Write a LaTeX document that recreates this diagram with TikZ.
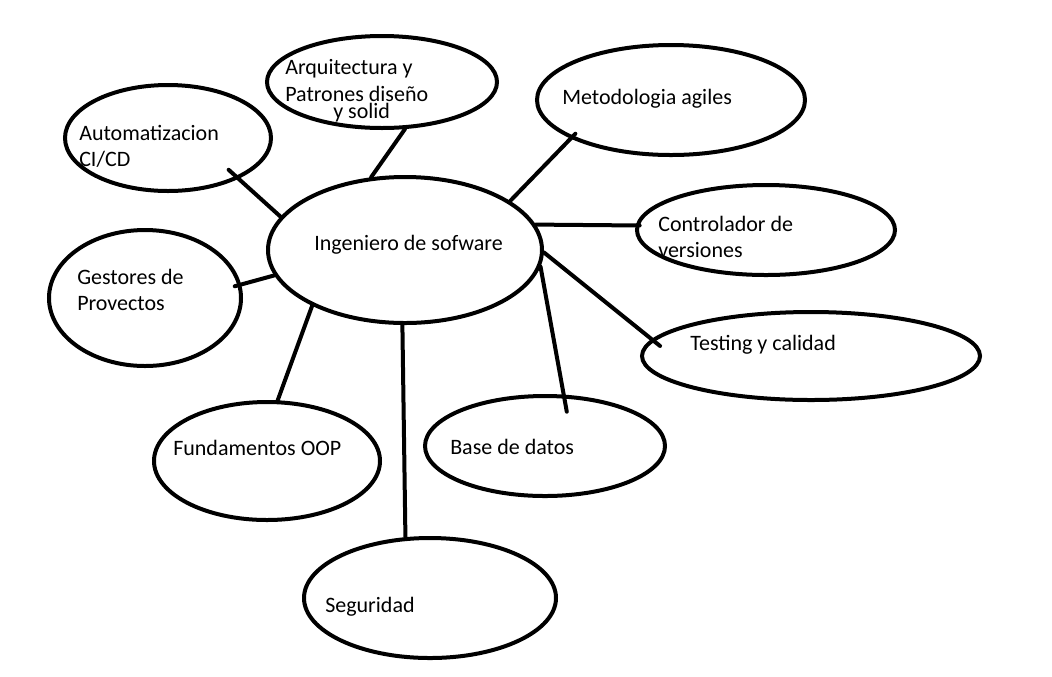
\documentclass[tikz,border=0pt]{standalone}
\usepackage{fontspec}
\setmainfont{Carlito}
\usepackage{tikz}
\usetikzlibrary{shapes.geometric}

\begin{document}
\begin{tikzpicture}[x=0.75pt, y=-0.75pt,
	burbuja/.style 2 args={ellipse, draw, line width=3pt, inner sep=0pt, minimum width=#1*1.5pt, minimum height=#2*1.5pt},
	texto/.style={anchor=base west, inner sep=0pt, align=left, font=\fontsize{16.5}{19.5}\selectfont}]
			\useasboundingbox (0,0) rectangle (1052,676);
			\node (ing) [burbuja={137}{73}] at (405,250) {};
			\node (arq) [burbuja={115}{46}] at (382,82) {};
			\node (auto) [burbuja={103}{53}] at (168,138) {};
			\node (metod) [burbuja={134}{55}] at (671,100) {};
			\node (control) [burbuja={129}{45}] at (766,230) {};
			\node (gest) [burbuja={96}{68}] at (145,298) {};
			\node (test) [burbuja={169}{44}] at (811,356) {};
			\node (fund) [burbuja={113}{59}] at (267,461) {};
			\node (base) [burbuja={120}{50}] at (545,446) {};
			\node (seg) [burbuja={126}{60}] at (430,598) {};
			\node (t-ing) [texto] at (314,250) {Ingeniero de sofware};
			\node (t-arq) [texto] at (285,118) {Arquitectura y\\[0.75pt]Patrones diseño\\[-6.75pt]\hspace*{36pt}y solid};
			\node (t-auto) [texto] at (79,166) {Automatizacion\\CI/CD};
			\node (t-metod) [texto] at (562,104) {Metodologia agiles};
			\node (t-control) [texto] at (658,257) {Controlador de\\versiones};
			\node (t-gest) [texto] at (77,310) {Gestores de\\Provectos};
			\node (t-test) [texto] at (690,350) {Testing y calidad};
			\node (t-fund) [texto] at (173,455) {Fundamentos OOP};
			\node (t-base) [texto] at (450,454) {Base de datos};
			\node (t-seg) [texto] at (325,612) {Seguridad};
			\path[line width=3pt, line cap=round]
			(ing.165) edge [shorten >=-10pt] (auto.-30)
			(ing.115) edge (arq.-64)
			(ing.25) edge [shorten >=-5pt] (metod.201)
			(ing.11) edge [shorten >=-3pt] (control.178)
			(ing.-1) edge [shorten >=-8pt] (test.174)
			(ing.-7) edge [shorten >=-13pt] (base.70)
			(ing.191) edge [shorten >=-5pt] (gest.8)
			(ing.211) edge (fund.80)
			(ing.268) edge (seg.112);
			\end{tikzpicture}
\end{document}
